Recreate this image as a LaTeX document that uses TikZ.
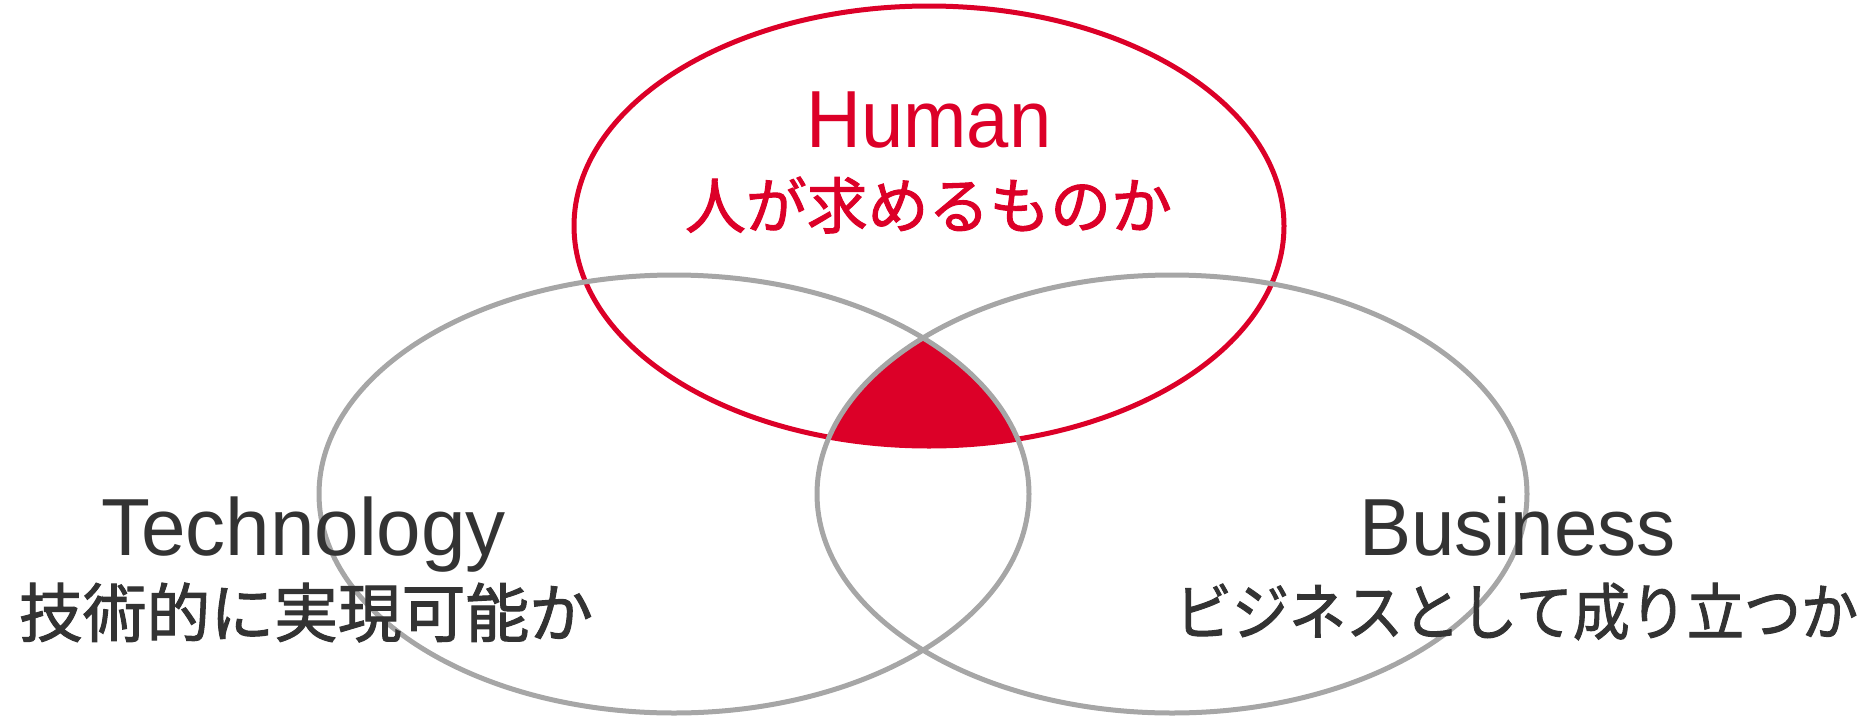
\documentclass[tikz,border=0pt]{standalone}
\usepackage{fontspec}
\usepackage{graphicx}
\setmainfont{Liberation Sans}
\newfontfamily\jpfont[FakeBold=1.6]{Noto Sans CJK JP}
\definecolor{hred}{HTML}{DC0028}
\definecolor{lgray}{HTML}{A6A6A6}
\definecolor{txtc}{HTML}{333333}
\begin{document}
\begin{tikzpicture}[x=1pt,y=-1pt,
  grayring/.style={line width=5pt, draw=lgray},
  redring/.style={line width=5pt, draw=hred},
  lbl/.style={inner sep=0pt, outer sep=0pt},
  dark/.style={lbl, text=txtc},
  redtxt/.style={lbl, text=hred}]
\useasboundingbox (0,0) rectangle (1868,715);
% shared region of all three
\begin{scope}
  \clip (674,494) ellipse [x radius=355pt, y radius=220pt];
  \clip (1172,494) ellipse [x radius=355pt, y radius=220pt];
  \fill[hred] (929,226) ellipse [x radius=355pt, y radius=220pt];
\end{scope}
\draw[redring] (929,226) ellipse [x radius=355pt, y radius=220pt];
\draw[grayring] (674,494) ellipse [x radius=355pt, y radius=219pt];
\draw[grayring] (1172,494) ellipse [x radius=355pt, y radius=219pt];
% labels
\node[redtxt, anchor=base] (human) at (929,147)
  {\resizebox{245pt}{\height}{\fontsize{81pt}{90pt}\selectfont Human}};
\node[redtxt] (humanjp) at (928.5,205)
  {\resizebox{487pt}{\height}{\jpfont\fontsize{61pt}{70pt}\selectfont 人が求めるものか}};
\node[dark, anchor=base] (tech) at (303.5,555)
  {\resizebox{405pt}{\height}{\fontsize{81pt}{90pt}\selectfont Technology}};
\node[dark] (techjp) at (306,612.5)
  {\resizebox{574pt}{\height}{\jpfont\fontsize{64pt}{72pt}\selectfont 技術的に実現可能か}};
\node[dark, anchor=base] (biz) at (1517.5,555)
  {\resizebox{317pt}{\height}{\fontsize{81pt}{90pt}\selectfont Business}};
\node[dark] (bizjp) at (1516.5,611.5)
  {\resizebox{683pt}{\height}{\jpfont\fontsize{62pt}{70pt}\selectfont ビジネスとして成り立つか}};
\end{tikzpicture}
\end{document}
